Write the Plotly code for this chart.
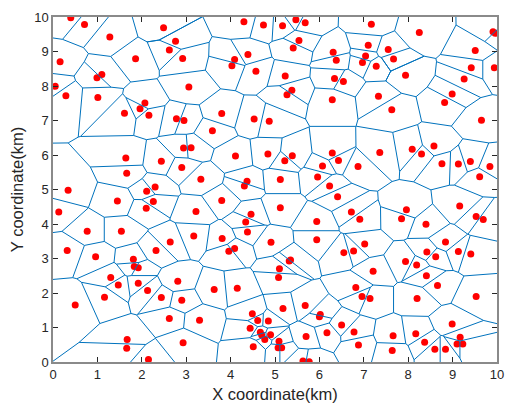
import numpy as np
import plotly.graph_objects as go

# Site coordinates (km)
x_sites = [
    0.40, 0.71, 1.28, 2.49, 0.16, 1.86, 1.10, 0.99, 0.05, 0.29, 1.01, 2.07, 1.96, 1.61, 2.16,
    4.30, 4.74, 2.76, 2.62, 2.92, 4.39, 4.09, 4.03, 4.57, 3.06, 3.80, 2.78, 2.95, 4.53, 4.87, 3.59,
    5.47, 5.17, 5.68, 7.17, 5.54, 5.41, 6.31, 6.38, 7.10, 7.55, 7.04, 6.97, 7.28, 7.67, 5.23, 6.34,
    6.54, 5.38, 5.27, 6.29, 7.33, 7.63,
    8.25, 9.91, 9.96, 9.51, 9.42, 9.94, 7.94, 9.26, 8.99, 8.82, 9.65,
    1.64, 2.44, 1.66, 0.34, 2.11, 2.30, 1.45, 2.26, 2.10, 0.13, 0.77, 1.54,
    2.94, 3.11, 4.11, 4.84, 2.90, 3.33, 4.37, 4.31, 5.12, 3.80, 3.22, 4.46, 4.34, 5.12, 4.38, 3.17,
    3.81, 2.64, 4.91, 4.09,
    5.39, 5.22, 6.29, 6.43, 7.36, 6.07, 6.87, 5.96, 6.23, 6.41, 6.72, 6.91, 5.94, 5.94, 7.02,
    8.09, 8.58, 8.30, 8.76, 9.13, 9.40, 9.84, 9.61, 7.96, 7.85, 9.16, 9.53, 9.69, 8.40, 8.84,
    0.32, 0.96, 2.32, 1.81, 1.83, 1.92, 1.30, 1.47, 1.92, 2.13, 1.16, 2.44, 0.50, 1.67, 1.66, 2.15,
    3.96, 2.81, 3.63, 4.15, 5.10, 5.08, 2.90, 2.62, 3.30, 2.93, 4.49, 4.61, 4.85, 4.44, 4.67, 4.70,
    4.90, 4.77, 5.09, 4.51, 5.07, 5.15,
    5.35, 5.32, 6.55, 6.77, 7.21, 6.82, 6.96, 7.14, 5.18, 5.68, 6.02, 6.00, 6.50, 6.78, 5.70, 6.17,
    6.88, 7.66, 7.64, 5.63, 5.77,
    8.42, 8.62, 9.13, 9.41, 7.94, 8.19, 8.41, 8.66, 8.20, 9.53, 8.99, 8.17, 9.17, 8.37, 9.10, 9.23,
    8.60, 8.84,
]
y_sites = [
    9.98, 9.78, 9.42, 9.69, 8.70, 8.79, 8.33, 8.24, 7.99, 7.72, 7.67, 7.51, 7.34, 7.21, 7.15,
    9.86, 9.77, 9.30, 9.04, 8.80, 8.91, 8.77, 8.59, 8.43, 7.97, 7.20, 7.05, 7.00, 7.04, 6.98, 6.70,
    9.92, 9.75, 9.83, 9.79, 9.32, 9.10, 8.98, 8.75, 9.18, 9.06, 8.87, 8.68, 8.57, 8.78, 8.29, 8.22,
    8.13, 7.88, 7.75, 7.60, 7.70, 7.31,
    9.55, 9.57, 9.53, 9.03, 8.53, 8.53, 8.31, 8.20, 7.77, 7.52, 7.01,
    5.91, 5.82, 5.47, 4.98, 4.95, 5.07, 4.67, 4.65, 4.46, 4.35, 3.79, 3.79,
    6.20, 6.21, 5.97, 6.03, 5.64, 5.30, 5.24, 5.10, 5.29, 4.68, 4.36, 4.28, 4.06, 4.47, 3.77, 3.65,
    3.58, 3.48, 3.47, 3.29,
    5.98, 5.83, 6.06, 5.84, 6.07, 5.68, 5.67, 5.36, 5.10, 4.79, 4.35, 4.14, 4.07, 3.54, 3.42,
    6.17, 6.26, 6.03, 5.75, 5.74, 5.81, 5.67, 5.37, 4.41, 4.15, 4.52, 4.22, 4.13, 3.99, 3.48,
    3.23, 3.05, 3.23, 2.98, 2.77, 2.73, 2.45, 2.23, 2.28, 2.07, 1.88, 1.87, 1.65, 0.65, 0.40, 0.07,
    3.21, 2.34, 2.10, 2.14, 2.70, 2.45, 1.79, 1.26, 1.21, 0.56, 1.40, 1.20, 1.19, 0.98, 0.86, 0.78,
    0.79, 0.65, 0.60, 0.44, 0.41, 0.41,
    2.96, 2.93, 3.17, 3.22, 2.63, 2.16, 1.90, 1.84, 1.55, 1.64, 1.38, 1.31, 1.07, 0.87, 0.74, 0.85,
    0.49, 0.76, 0.33, 0.03, 0.01,
    3.19, 3.05, 3.20, 3.13, 2.91, 2.81, 2.50, 2.22, 1.84, 1.90, 1.10, 0.82, 0.72, 0.57, 0.52, 0.52,
    0.37, 0.37,
]
x_ticks = list(range(0, 11))
y_ticks = list(range(0, 11))

pts = np.column_stack([x_sites, y_sites])
n = len(pts)


def clip(poly, nx, ny, c):
    out = []
    m = len(poly)
    for k in range(m):
        p = poly[k]
        q = poly[(k + 1) % m]
        dp = nx * p[0] + ny * p[1] - c
        dq = nx * q[0] + ny * q[1] - c
        if dp <= 0:
            out.append(p)
        if (dp < 0 < dq) or (dq < 0 < dp):
            t = dp / (dp - dq)
            out.append((p[0] + t * (q[0] - p[0]), p[1] + t * (q[1] - p[1])))
    return out


B = 60.0
edges = {}
for i in range(n):
    pi = pts[i]
    poly = [(-B, -B), (B, -B), (B, B), (-B, B)]
    order = np.argsort(((pts - pi) ** 2).sum(axis=1))
    for j in order:
        if j == i:
            continue
        pj = pts[j]
        d = pj - pi
        if d[0] == 0 and d[1] == 0:
            continue
        mid = (pi + pj) / 2
        poly = clip(poly, d[0], d[1], d[0] * mid[0] + d[1] * mid[1])
    m = len(poly)
    for k in range(m):
        a = poly[k]
        b = poly[(k + 1) % m]
        if (abs(a[0]) >= B - 1e-6 and abs(b[0]) >= B - 1e-6 and abs(a[0] - b[0]) < 1e-6) or \
           (abs(a[1]) >= B - 1e-6 and abs(b[1]) >= B - 1e-6 and abs(a[1] - b[1]) < 1e-6):
            continue
        ka = (round(a[0], 5), round(a[1], 5))
        kb = (round(b[0], 5), round(b[1], 5))
        key = (ka, kb) if ka <= kb else (kb, ka)
        if key not in edges:
            edges[key] = (a, b)

ex, ey = [], []
for a, b in edges.values():
    ex += [a[0], b[0], None]
    ey += [a[1], b[1], None]

fig = go.Figure()
fig.add_trace(go.Scatter(x=x_sites, y=y_sites, mode="markers",
                         marker=dict(color="#FF0000", size=7), hoverinfo="skip"))
fig.add_trace(go.Scatter(x=ex, y=ey, mode="lines",
                         line=dict(color="#0072BD", width=1), hoverinfo="skip"))

axis_common = dict(showgrid=False, zeroline=False, showline=True, linecolor="#8a8a8a",
                   linewidth=1.5, mirror="ticks", ticks="inside", ticklen=5,
                   tickcolor="#262626", tickwidth=1,
                   tickfont=dict(family="Liberation Sans, Arial", size=13, color="#262626"))
fig.update_xaxes(range=[0, 10], tickvals=x_ticks, ticktext=[str(v) for v in x_ticks],
                 title=dict(text="X coordinate(km)", standoff=7,
                            font=dict(family="Liberation Sans, Arial", size=16.5, color="#262626")),
                 **axis_common)
fig.update_yaxes(range=[0, 10], tickvals=y_ticks, ticktext=[str(v) for v in y_ticks],
                 title=dict(text="Y coordinate(km)", standoff=6,
                            font=dict(family="Liberation Sans, Arial", size=16.5, color="#262626")),
                 **axis_common)
fig.update_layout(width=514, height=414, showlegend=False,
                  margin=dict(l=53, r=14, t=10, b=52),
                  plot_bgcolor="white", paper_bgcolor="white")
fig.write_html("out.html")
